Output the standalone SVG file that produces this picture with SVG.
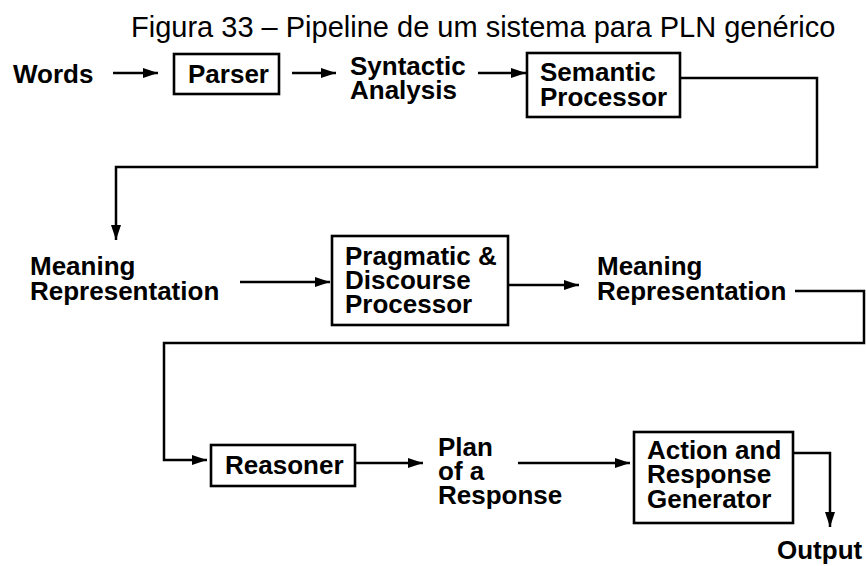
<svg xmlns="http://www.w3.org/2000/svg" width="866" height="566" viewBox="0 0 866 566">
  <style>
    .title { font-family: "Liberation Sans", Arial, sans-serif; font-size: 29px; fill: #000; }
    .lbl { font-family: "Liberation Sans", Arial, Helvetica, sans-serif; font-size: 26px; font-weight: bold; fill: #000; }
    .box { fill: #fff; stroke: #000; stroke-width: 2.6; }
    .edge { fill: none; stroke: #000; stroke-width: 2.5; stroke-linejoin: miter; }
    .arrow { marker-end: url(#head); }
  </style>
  <defs>
    <marker id="head" markerUnits="userSpaceOnUse" markerWidth="16" markerHeight="12" refX="15" refY="6" orient="auto">
      <path d="M0,1 L15,6 L0,11 Z" fill="#000"/>
    </marker>
  </defs>

  <rect width="866" height="566" fill="#fff"/>

  <text class="title" x="131" y="37">Figura 33 – Pipeline de um sistema para PLN genérico</text>

  <!-- Connectors -->
  <g id="connectors">
    <line class="edge arrow" x1="113" y1="73" x2="158" y2="73"/>
    <line class="edge arrow" x1="292" y1="73" x2="336" y2="73"/>
    <line class="edge arrow" x1="478" y1="73" x2="526" y2="73"/>
    <polyline class="edge arrow" points="681,78 817,78 817,167 116,167 116,240"/>
    <line class="edge arrow" x1="240" y1="282" x2="330" y2="282"/>
    <line class="edge arrow" x1="509" y1="285" x2="579" y2="285"/>
    <polyline class="edge arrow" points="795,291 864,291 864,343 164,343 164,460 207,460"/>
    <line class="edge arrow" x1="356" y1="463" x2="423" y2="463"/>
    <line class="edge arrow" x1="518" y1="463" x2="630" y2="463"/>
    <polyline class="edge arrow" points="794,453 830,453 830,527"/>
  </g>

  <!-- Nodes -->
  <g id="words">
    <text class="lbl" x="13" y="83">Words</text>
  </g>
  <g id="parser">
    <rect class="box" x="174" y="54" width="105" height="40"/>
    <text class="lbl" x="188" y="83">Parser</text>
  </g>
  <g id="syntactic-analysis">
    <text class="lbl" x="350" y="75">Syntactic</text>
    <text class="lbl" x="350" y="99">Analysis</text>
  </g>
  <g id="semantic-processor">
    <rect class="box" x="527" y="53" width="153" height="64"/>
    <text class="lbl" x="540" y="81">Semantic</text>
    <text class="lbl" x="540" y="106">Processor</text>
  </g>
  <g id="meaning-representation-1">
    <text class="lbl" x="30" y="275">Meaning</text>
    <text class="lbl" x="30" y="300">Representation</text>
  </g>
  <g id="pragmatic-discourse-processor">
    <rect class="box" x="332" y="236" width="176" height="89"/>
    <text class="lbl" x="345" y="265">Pragmatic &amp;</text>
    <text class="lbl" x="345" y="289">Discourse</text>
    <text class="lbl" x="345" y="313">Processor</text>
  </g>
  <g id="meaning-representation-2">
    <text class="lbl" x="597" y="275">Meaning</text>
    <text class="lbl" x="597" y="300">Representation</text>
  </g>
  <g id="reasoner">
    <rect class="box" x="211" y="445" width="144" height="41"/>
    <text class="lbl" x="225" y="474">Reasoner</text>
  </g>
  <g id="plan-of-a-response">
    <text class="lbl" x="438" y="456">Plan</text>
    <text class="lbl" x="438" y="480">of a</text>
    <text class="lbl" x="438" y="504">Response</text>
  </g>
  <g id="action-response-generator">
    <rect class="box" x="634" y="432" width="159" height="91"/>
    <text class="lbl" x="647" y="459">Action and</text>
    <text class="lbl" x="647" y="483">Response</text>
    <text class="lbl" x="647" y="508">Generator</text>
  </g>
  <g id="output">
    <text class="lbl" x="777" y="559">Output</text>
  </g>
</svg>
